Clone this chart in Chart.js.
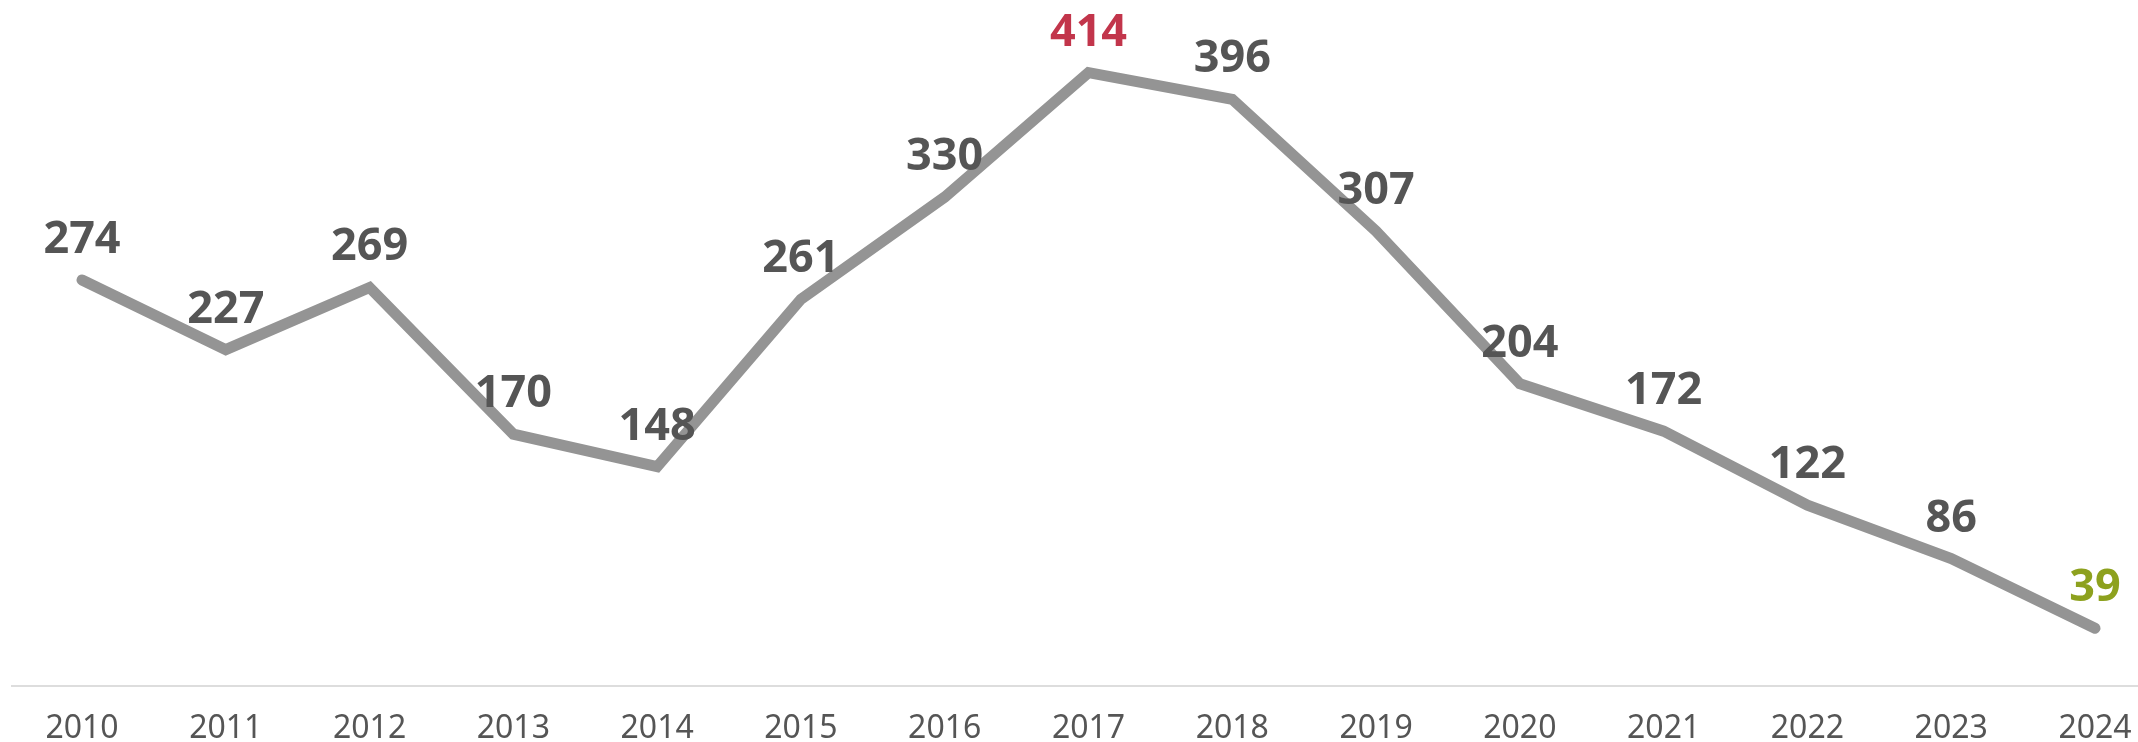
<!DOCTYPE html>
<html>
<head>
<meta charset="utf-8">
<script src="https://cdn.jsdelivr.net/npm/chart.js@4.4.1/dist/chart.umd.min.js"></script>
<style>
  html, body { margin: 0; padding: 0; background: #fff; }
  #wrap { width: 2138px; height: 742px; position: relative; }
</style>
</head>
<body>
<div id="wrap"><canvas id="lineChart"></canvas></div>
<script>
// --- Datos ---
const years = ['2010', '2011', '2012', '2013', '2014', '2015', '2016', '2017', '2018', '2019', '2020', '2021', '2022', '2023', '2024'];
const values = [274, 227, 269, 170, 148, 261, 330, 414, 396, 307, 204, 172, 122, 86, 39];

const LABEL_GREY = '#555555';
const LABEL_RED = '#C2354B';
const LABEL_GREEN = '#8DA11E';

// valor sobre cada punto: rojo el máximo, verde el último
const pointLabels = {
    id: 'pointLabels',
    afterDatasetsDraw(chart) {
        const ctx = chart.ctx;
        const meta = chart.getDatasetMeta(0);
        const max = Math.max(...values);
        ctx.save();
        ctx.font = 'bold 45px "Noto Sans"';
        ctx.textAlign = 'center';
        ctx.textBaseline = 'alphabetic';
        meta.data.forEach((pt, i) => {
            const v = values[i];
            let color = LABEL_GREY;
            if (v === max) color = LABEL_RED;
            else if (i === values.length - 1) color = LABEL_GREEN;
            ctx.fillStyle = color;
            ctx.fillText(String(v), pt.x, pt.y - 27);
        });
        ctx.restore();
    }
};

// línea base a lo ancho del lienzo
const baseLine = {
    id: 'baseLine',
    beforeDatasetsDraw(chart) {
        const ctx = chart.ctx;
        const y = chart.scales.y.getPixelForValue(0);
        ctx.save();
        ctx.strokeStyle = '#dddddd';
        ctx.lineWidth = 2;
        ctx.beginPath();
        ctx.moveTo(11, y);
        ctx.lineTo(chart.width, y);
        ctx.stroke();
        ctx.restore();
    }
};

new Chart(document.getElementById('lineChart'), {
    type: 'line',
    data: {
        labels: years,
        datasets: [{
            data: values,
            borderColor: '#949494',
            borderWidth: 11,
            borderCapStyle: 'round',
            borderJoinStyle: 'miter',
            pointRadius: 0,
            tension: 0,
            clip: false
        }]
    },
    options: {
        responsive: true,
        maintainAspectRatio: false,
        animation: false,
        layout: { padding: { left: 82, right: 43, top: 0, bottom: 0 } },
        scales: {
            x: {
                offset: false,
                grid: { display: false, drawTicks: false },
                border: { display: false },
                afterFit(scale) {
                    scale.height = 56;
                    scale.paddingLeft = 0;
                    scale.paddingRight = 0;
                },
                ticks: {
                    color: '#555555',
                    font: { family: '"Noto Sans"', size: 32 },
                    padding: 24,
                    maxRotation: 0,
                    autoSkip: false
                }
            },
            y: {
                display: false,
                min: 0,
                max: 463
            }
        },
        plugins: {
            legend: { display: false },
            tooltip: { enabled: false }
        }
    },
    plugins: [baseLine, pointLabels]
});
</script>
</body>
</html>
